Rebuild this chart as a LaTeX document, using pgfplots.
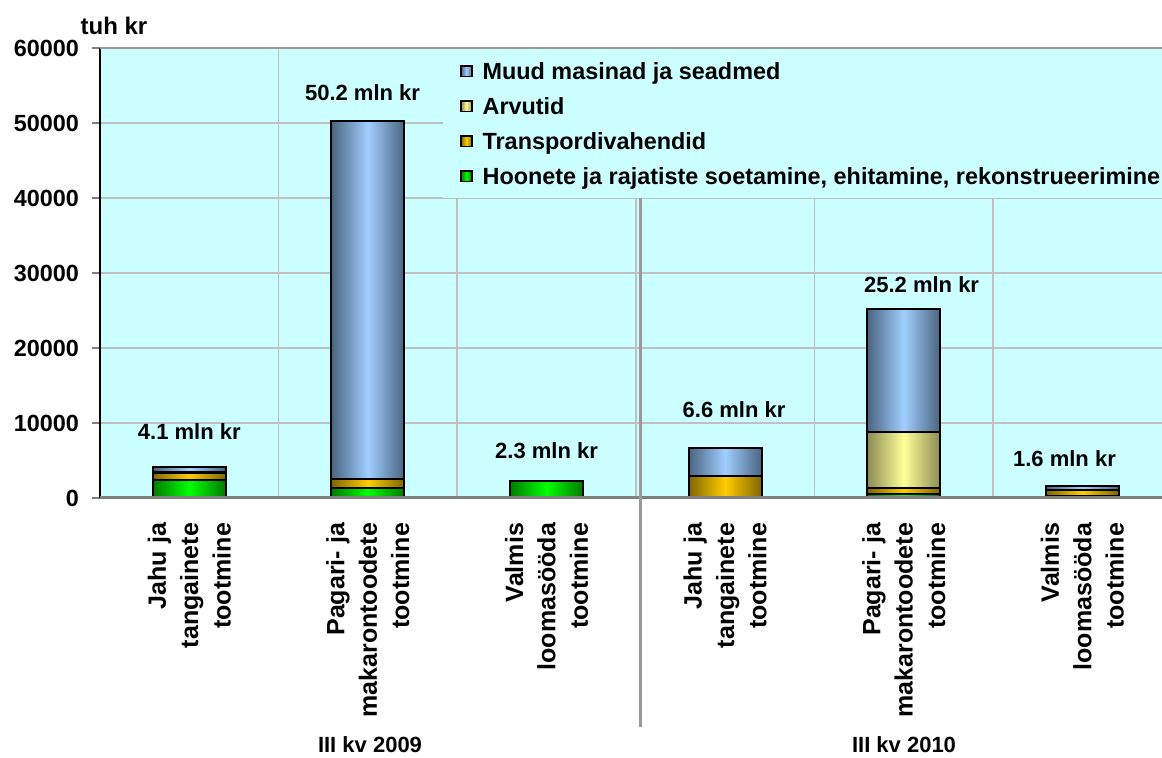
\documentclass[border=0pt]{standalone}
\usepackage{fontspec}
\setmainfont{Liberation Sans}
\usepackage{pgfplots}
\pgfplotsset{compat=1.18}
\definecolor{bgc}{HTML}{CCFFFF}
\definecolor{gridc}{HTML}{C0C0C0}
\definecolor{bluec}{HTML}{A0CFFF}
\definecolor{bluee}{HTML}{4A6480}
\definecolor{yellc}{HTML}{FFFF99}
\definecolor{yelle}{HTML}{8C8C55}
\definecolor{orac}{HTML}{FFCC00}
\definecolor{orae}{HTML}{806600}
\definecolor{grec}{HTML}{00FF00}
\definecolor{gree}{HTML}{007A00}
\definecolor{sepc}{HTML}{999999}
\pgfplotsset{
  sqlegend/.style={legend image code/.code={\draw[##1, line width=0.6pt] (0pt,-2.6pt) rectangle (5.5pt,2.6pt);}},
  seg/.style={ybar, bar width=36.5pt, bar shift=0pt, draw=black, line width=1pt},
  sblue/.style={fill=bluec, left color=bluee, right color=bluee, middle color=bluec},
  syell/.style={fill=yellc, left color=yelle, right color=yelle, middle color=yellc},
  sora/.style={fill=orac, left color=orae, right color=orae, middle color=orac},
  sgre/.style={fill=grec, left color=gree, right color=gree, middle color=grec},
}
\begin{document}
\begin{tikzpicture}
\begin{axis}[
  at={(50pt,130pt)}, anchor=south west,
  scale only axis, width=531pt, height=225pt,
  xmin=-0.5, xmax=5.446, ymin=0, ymax=60000,
  clip=false,
  axis background/.style={fill=bgc},
  axis line style={draw=none},
  ytick={0,10000,20000,30000,40000,50000,60000},
  yticklabels={0,10000,20000,30000,40000,50000,60000},
  scaled y ticks=false,
  ymajorgrids, major grid style={draw=gridc, line width=0.75pt},
  minor xtick={0.5,1.5,2.5,3.5,4.5}, xminorgrids,
  minor grid style={draw=gridc, line width=0.75pt},
  minor tick length=0pt,
  xtick={0,1,2,3,4,5},
  xticklabels={{Jahu ja\\tangainete\\tootmine},{Pagari- ja\\makarontoodete\\tootmine},{Valmis\\loomasööda\\tootmine},{Jahu ja\\tangainete\\tootmine},{Pagari- ja\\makarontoodete\\tootmine},{Valmis\\loomasööda\\tootmine}},
  x tick style={draw=none},
  y tick style={draw=gray, line width=0.75pt},
  tick align=outside, major tick length=4pt,
  yticklabel style={font=\fontsize{11.7}{14}\selectfont\bfseries, xshift=-3pt},
  xticklabel style={yshift=-5pt, font=\fontsize{12.5}{16.2}\selectfont\bfseries, rotate=90, anchor=east, align=right},
  legend style={at={(0.323,0.998)}, anchor=north west, fill=bgc, draw=none,
    font=\fontsize{11.7}{14}\selectfont\bfseries,
    nodes={inner sep=0pt, text height=9.5pt, text depth=1.5pt},
    row sep=6.5pt, inner xsep=8.5pt, inner ysep=5.5pt},
  legend cell align=left,
  sqlegend,
]
\addlegendimage{sblue}
\addlegendimage{syell}
\addlegendimage{sora}
\addlegendimage{sgre}
% cumulative stack heights (tuh kr): total, +Arvutid, +Transport, Hoonete
% Jahu ja tangainete 2009: 2400 / 900 / 100 / 700
\addplot[seg, sblue] coordinates {(0,4100)};
\addplot[seg, syell] coordinates {(0,3400)};
\addplot[seg, sora] coordinates {(0,3300)};
\addplot[seg, sgre] coordinates {(0,2400)};
% Pagari- ja makarontoodete 2009: 1300 / 1200 / 0 / 47700
\addplot[seg, sblue] coordinates {(1,50200)};
\addplot[seg, sora] coordinates {(1,2500)};
\addplot[seg, sgre] coordinates {(1,1300)};
% Valmis loomasooda 2009: 2200
\addplot[seg, sgre] coordinates {(2,2200)};
% Jahu ja tangainete 2010: 0 / 2950 / 0 / 3650
\addplot[seg, sblue] coordinates {(3,6600)};
\addplot[seg, sora] coordinates {(3,2950)};
% Pagari- ja makarontoodete 2010: 480 / 820 / 7550 / 16350
\addplot[seg, sblue] coordinates {(4,25200)};
\addplot[seg, syell] coordinates {(4,8850)};
\addplot[seg, sora] coordinates {(4,1300)};
\addplot[seg, sgre] coordinates {(4,480)};
% Valmis loomasooda 2010: 250 / 750 / 50 / 550
\addplot[seg, sblue] coordinates {(5,1600)};
\addplot[seg, syell] coordinates {(5,1050)};
\addplot[seg, sora] coordinates {(5,1000)};
\addplot[seg, sgre] coordinates {(5,250)};
\legend{{\hspace{5pt}Muud masinad ja seadmed},{\hspace{5pt}Arvutid},{\hspace{5pt}Transpordivahendid},{\hspace{5pt}Hoonete ja rajatiste soetamine, ehitamine, rekonstrueerimine}}
\draw[black, line width=1pt] (rel axis cs:0,0) -- (rel axis cs:0,1);
\draw[gray, line width=1.5pt] (rel axis cs:0,0) -- (rel axis cs:1,0);
\draw[gray!80, line width=1pt] (rel axis cs:0,1) -- (rel axis cs:1,1);
\node[font=\fontsize{11}{13}\selectfont\bfseries] at (axis cs:0,8800) {4.1 mln kr};
\node[font=\fontsize{11}{13}\selectfont\bfseries] at (axis cs:0.97,54000) {50.2 mln kr};
\node[font=\fontsize{11}{13}\selectfont\bfseries] at (axis cs:2.0,6300) {2.3 mln kr};
\node[font=\fontsize{11}{13}\selectfont\bfseries] at (axis cs:3.05,11730) {6.6 mln kr};
\node[font=\fontsize{11}{13}\selectfont\bfseries] at (axis cs:4.1,28500) {25.2 mln kr};
\node[font=\fontsize{11}{13}\selectfont\bfseries] at (axis cs:4.9,5200) {1.6 mln kr};
\end{axis}
\draw[sepc, line width=1.5pt] (320pt,280pt) -- (320pt,15.5pt);
\node[font=\fontsize{12}{14}\selectfont\bfseries, anchor=base] at (57pt,361.5pt) {tuh kr};
\node[font=\fontsize{11}{13}\selectfont\bfseries] at (185pt,6.5pt) {III kv 2009};
\node[font=\fontsize{11}{13}\selectfont\bfseries] at (452pt,6.5pt) {III kv 2010};
\pgfresetboundingbox
\path[use as bounding box] (0,0) rectangle (581pt,379pt);
\end{tikzpicture}
\end{document}
